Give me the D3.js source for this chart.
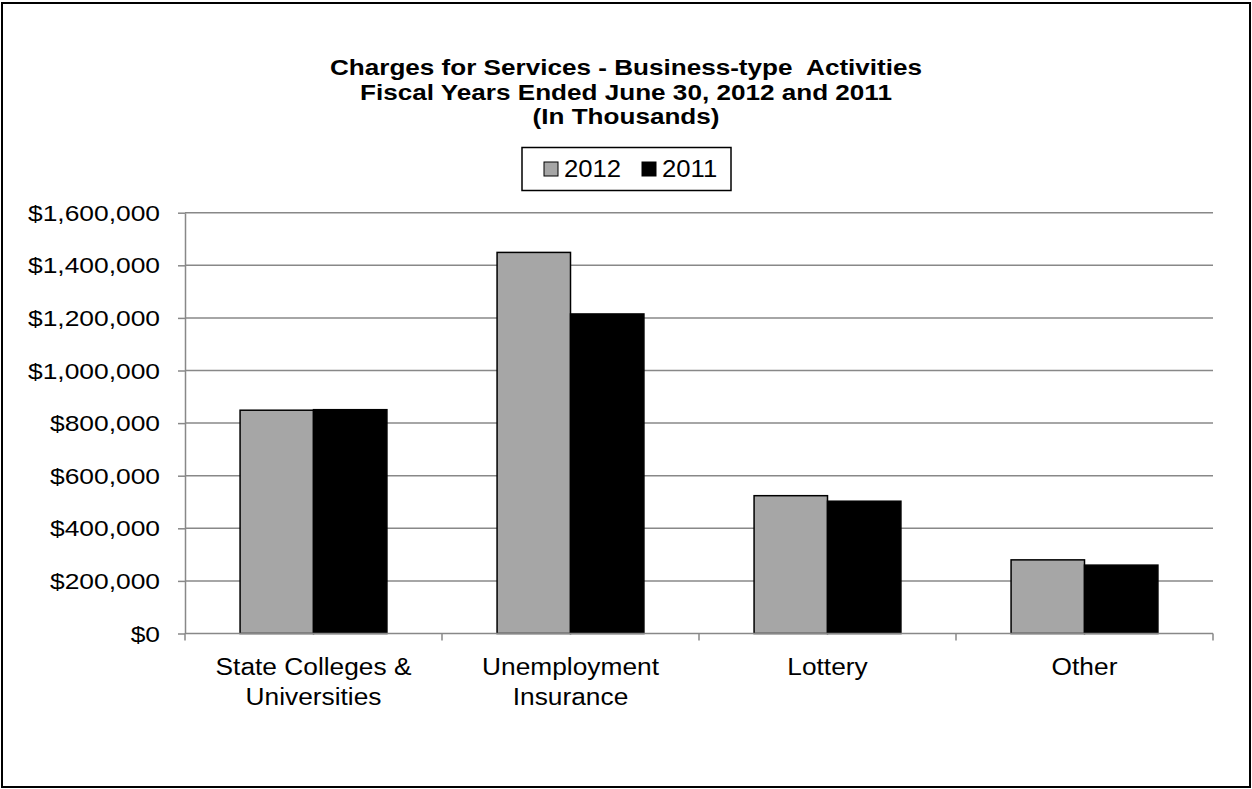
<!DOCTYPE html>
<html>
<head>
<meta charset="utf-8">
<script src="https://cdn.jsdelivr.net/npm/d3@7"></script>
<style>
  html, body { margin: 0; padding: 0; background: #fff; }
  svg { display: block; }
  text { font-family: Arial, "Liberation Sans", sans-serif; fill: #000; }
</style>
</head>
<body>
<svg id="chart" width="1252" height="789"></svg>
<script>
// Charges for services, business-type activities (thousands of dollars)
const categories = [["State Colleges &", "Universities"], ["Unemployment", "Insurance"], ["Lottery"], ["Other"]];
const seriesNames = ["2012", "2011"];
const values2012 = [849000, 1449000, 524000, 280000];
const values2011 = [851000, 1215000, 503000, 260000];
const yTicks = [0, 200000, 400000, 600000, 800000, 1000000, 1200000, 1400000, 1600000];
const titleLines = ["Charges for Services - Business-type\u00a0 Activities", "Fiscal Years Ended June 30, 2012 and 2011", "(In Thousands)"];
const colors = ["#a6a6a6", "#000000"];

const svg = d3.select("#chart");
const W = 1252, H = 789;
const plot = { left: 185, right: 1213, top: 212.7, bottom: 633.5 };

// text with a slight horizontal stretch, anchored at (x, y)
function label(parent, x, y, str, size, sx, anchor, weight) {
  return parent.append("text")
    .attr("transform", `translate(${x},${y}) scale(${sx},1)`)
    .attr("text-anchor", anchor || "start")
    .attr("font-size", size)
    .attr("font-weight", weight || "normal")
    .text(str);
}

// outer chart border
svg.append("rect").attr("x", 2).attr("y", 3).attr("width", W - 4).attr("height", H - 5)
  .attr("fill", "#fff").attr("stroke", "#000").attr("stroke-width", 2);

const x0 = d3.scaleBand().domain(d3.range(categories.length))
  .range([plot.left, plot.right]).paddingInner(0).paddingOuter(0);
// 150% gap between groups: each group holds 2 bars in band/(2+1.5)
const groupPad = 1.5 / 3.5;
const x1 = d3.scaleBand().domain(seriesNames)
  .range([x0.bandwidth() * groupPad / 2, x0.bandwidth() * (1 - groupPad / 2)]).padding(0);
const y = d3.scaleLinear().domain([0, 1600000]).range([plot.bottom, plot.top]);

// gridlines
svg.append("g").selectAll("line").data(yTicks.slice(1)).join("line")
  .attr("x1", plot.left).attr("x2", plot.right)
  .attr("y1", d => y(d)).attr("y2", d => y(d))
  .attr("stroke", "#888").attr("stroke-width", 1.5);

// y axis line and tick marks
const yAxis = svg.append("g").attr("transform", `translate(${plot.left},0)`)
  .call(d3.axisLeft(y).tickValues(yTicks).tickFormat("").tickSize(7).tickSizeOuter(0));
yAxis.select(".domain").attr("stroke", "#888").attr("stroke-width", 1.5);
yAxis.selectAll(".tick line").attr("stroke", "#888").attr("stroke-width", 1.5);

// y tick labels
const fmt = d => "$" + d3.format(",")(d);
const yLab = svg.append("g");
yTicks.forEach(t => label(yLab, 160, y(t) + 8, fmt(t), 22, 1.2, "end"));

// bars
const series = [values2012, values2011];
const groups = svg.append("g").selectAll("g").data(categories.map((c, i) => i)).join("g")
  .attr("transform", i => `translate(${x0(i)},0)`);
groups.selectAll("rect").data(i => seriesNames.map((s, k) => ({ s, k, v: series[k][i] }))).join("rect")
  .attr("x", d => x1(d.s)).attr("width", x1.bandwidth())
  .attr("y", d => y(d.v)).attr("height", d => y(0) - y(d.v))
  .attr("fill", d => colors[d.k]).attr("stroke", "#000").attr("stroke-width", 1.5);

// x axis
const xAxis = svg.append("g").attr("transform", `translate(0,${plot.bottom})`);
xAxis.append("line").attr("x1", plot.left).attr("x2", plot.right)
  .attr("stroke", "#888").attr("stroke-width", 1.5);
xAxis.selectAll("line.tk").data(d3.range(categories.length + 1)).join("line").attr("class", "tk")
  .attr("x1", i => plot.left + i * x0.bandwidth()).attr("x2", i => plot.left + i * x0.bandwidth())
  .attr("y1", 0).attr("y2", 7).attr("stroke", "#888").attr("stroke-width", 1.5);

// category labels
const xLab = svg.append("g");
categories.forEach((lines, i) => {
  lines.forEach((s, j) => label(xLab, x0(i) + x0.bandwidth() / 2, 675 + j * 30, s, 23.5, 1.12, "middle"));
});

// title
const tg = svg.append("g");
titleLines.forEach((s, i) => label(tg, 626, 75 + i * 24.5, s, 22.5, 1.16, "middle", "bold"));

// legend
const lg = svg.append("g");
lg.append("rect").attr("x", 522).attr("y", 147.5).attr("width", 209).attr("height", 43)
  .attr("fill", "#fff").attr("stroke", "#000").attr("stroke-width", 1.5);
const legendX = [544, 642];
seriesNames.forEach((s, i) => {
  lg.append("rect").attr("x", legendX[i]).attr("y", 162).attr("width", 14).attr("height", 14)
    .attr("fill", colors[i]).attr("stroke", "#000").attr("stroke-width", 1);
  label(lg, legendX[i] + 20, 177, s, 24, 1.07, "start");
});
</script>
</body>
</html>
